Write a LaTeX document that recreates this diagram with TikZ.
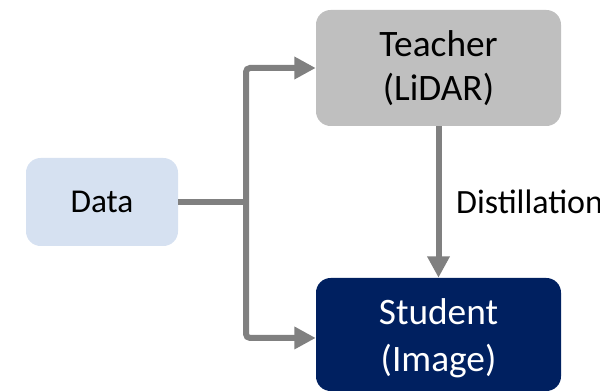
\documentclass[tikz,border=0pt]{standalone}
\usepackage{fontspec}
\setmainfont{Carlito}
\usetikzlibrary{arrows.meta}
\definecolor{databg}{HTML}{D6E1F1}
\definecolor{teachbg}{HTML}{BFBFBF}
\definecolor{studbg}{HTML}{002060}
\definecolor{arrgray}{HTML}{808080}
\tikzset{
  boxstyle/.style={rounded corners=11pt, inner sep=0pt, align=center},
  conn/.style={draw=arrgray, line width=4.5pt},
  arr/.style={conn, -{Triangle[length=16pt,width=16pt]}},
}
\begin{document}
\begin{tikzpicture}[x=0.75pt,y=-0.75pt]
\useasboundingbox (0,0) rectangle (600,391);
\node[boxstyle, fill=databg, minimum width=114pt, minimum height=66pt,
      font=\fontsize{25}{30}\selectfont] (data) at (102,202) {Data};
\node[boxstyle, fill=teachbg, minimum width=183.75pt, minimum height=87pt,
      font=\fontsize{28}{33.5}\selectfont] (teacher) at (438.5,68) {Teacher\\(LiDAR)};
\node[boxstyle, fill=studbg, minimum width=183.75pt, minimum height=84.75pt] (student) at (438.5,334.5) {};
\node[inner sep=0pt, align=center, text=white,
      font=\fontsize{28}{35}\selectfont] (studtext) at (438.5,338) {Student\\(Image)};
\coordinate (j) at (246,202);
\draw[conn] (data.east) -- (j);
\draw[arr, rounded corners=3pt] (j) |- (teacher.west);
\draw[arr, rounded corners=3pt] (j) |- ([yshift=-2.6pt]student.west);
\draw[arr] (teacher.south) -- (student.north)
  node[midway, anchor=west, inner sep=0pt, xshift=11pt,
       font=\fontsize{25.5}{30}\selectfont] (dist) {Distillation};
\end{tikzpicture}
\end{document}
